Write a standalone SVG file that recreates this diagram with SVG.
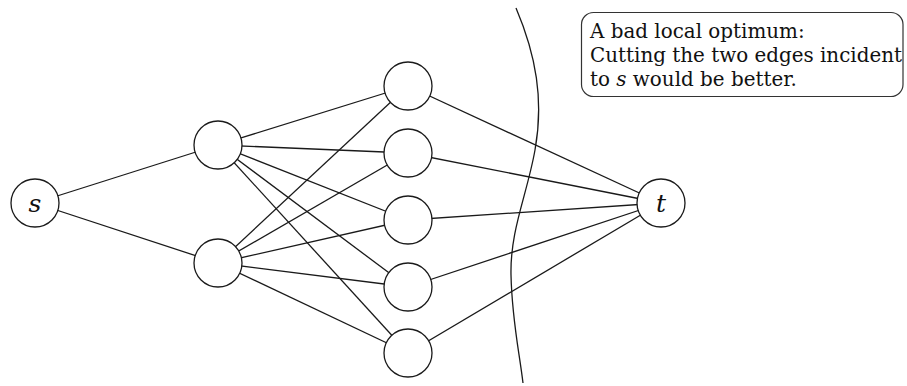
<svg xmlns="http://www.w3.org/2000/svg" width="907" height="386" viewBox="0 0 907 386">
<style>
.e{stroke:#1a1a1a;stroke-width:1.3;fill:none}
.n{fill:#fff;stroke:#1a1a1a;stroke-width:1.3}
.lbl{font-family:"DejaVu Serif","Liberation Serif",serif;font-style:italic;font-size:25px;fill:#111;text-anchor:middle}
.txt{font-family:"DejaVu Serif","Liberation Serif",serif;font-size:19.9px;fill:#111}
</style>
<rect width="907" height="386" fill="#fff"/>
<g id="connectors">
<line class="e" x1="35" y1="203" x2="218" y2="145"/>
<line class="e" x1="35" y1="203" x2="218" y2="263"/>
<line class="e" x1="218" y1="145" x2="408" y2="86"/>
<line class="e" x1="218" y1="145" x2="408" y2="153"/>
<line class="e" x1="218" y1="145" x2="408" y2="220"/>
<line class="e" x1="218" y1="145" x2="408" y2="287"/>
<line class="e" x1="218" y1="145" x2="408" y2="353"/>
<line class="e" x1="218" y1="263" x2="408" y2="86"/>
<line class="e" x1="218" y1="263" x2="408" y2="153"/>
<line class="e" x1="218" y1="263" x2="408" y2="220"/>
<line class="e" x1="218" y1="263" x2="408" y2="287"/>
<line class="e" x1="218" y1="263" x2="408" y2="353"/>
<line class="e" x1="408" y1="86" x2="661" y2="203"/>
<line class="e" x1="408" y1="153" x2="661" y2="203"/>
<line class="e" x1="408" y1="220" x2="661" y2="203"/>
<line class="e" x1="408" y1="287" x2="661" y2="203"/>
<line class="e" x1="408" y1="353" x2="661" y2="203"/>
</g>
<g id="cut">
<path class="e" d="M516,8 C536,55 544,100 535,150 C527,195 510,230 511,275 C512,320 519,350 523,383"/>
</g>
<g id="node-s"><circle class="n" cx="35" cy="203" r="24"/><text class="lbl" x="35" y="211.5">s</text></g>
<g id="node-a"><circle class="n" cx="218" cy="145" r="24"/></g>
<g id="node-b"><circle class="n" cx="218" cy="263" r="24"/></g>
<g id="node-r1"><circle class="n" cx="408" cy="86" r="24"/></g>
<g id="node-r2"><circle class="n" cx="408" cy="153" r="24"/></g>
<g id="node-r3"><circle class="n" cx="408" cy="220" r="24"/></g>
<g id="node-r4"><circle class="n" cx="408" cy="287" r="24"/></g>
<g id="node-r5"><circle class="n" cx="408" cy="353" r="24"/></g>
<g id="node-t"><circle class="n" cx="661" cy="203" r="24"/><text class="lbl" x="661" y="211.5">t</text></g>
<g id="note">
<rect x="581.5" y="12.5" width="321.5" height="84" rx="12" ry="12" fill="#fff" stroke="#333" stroke-width="1.2"/>
<text class="txt" x="590" y="38">A bad local optimum:</text>
<text class="txt" x="590" y="62">Cutting the two edges incident</text>
<text class="txt" x="590" y="86">to <tspan font-style="italic">s</tspan> would be better.</text>
</g>
</svg>
